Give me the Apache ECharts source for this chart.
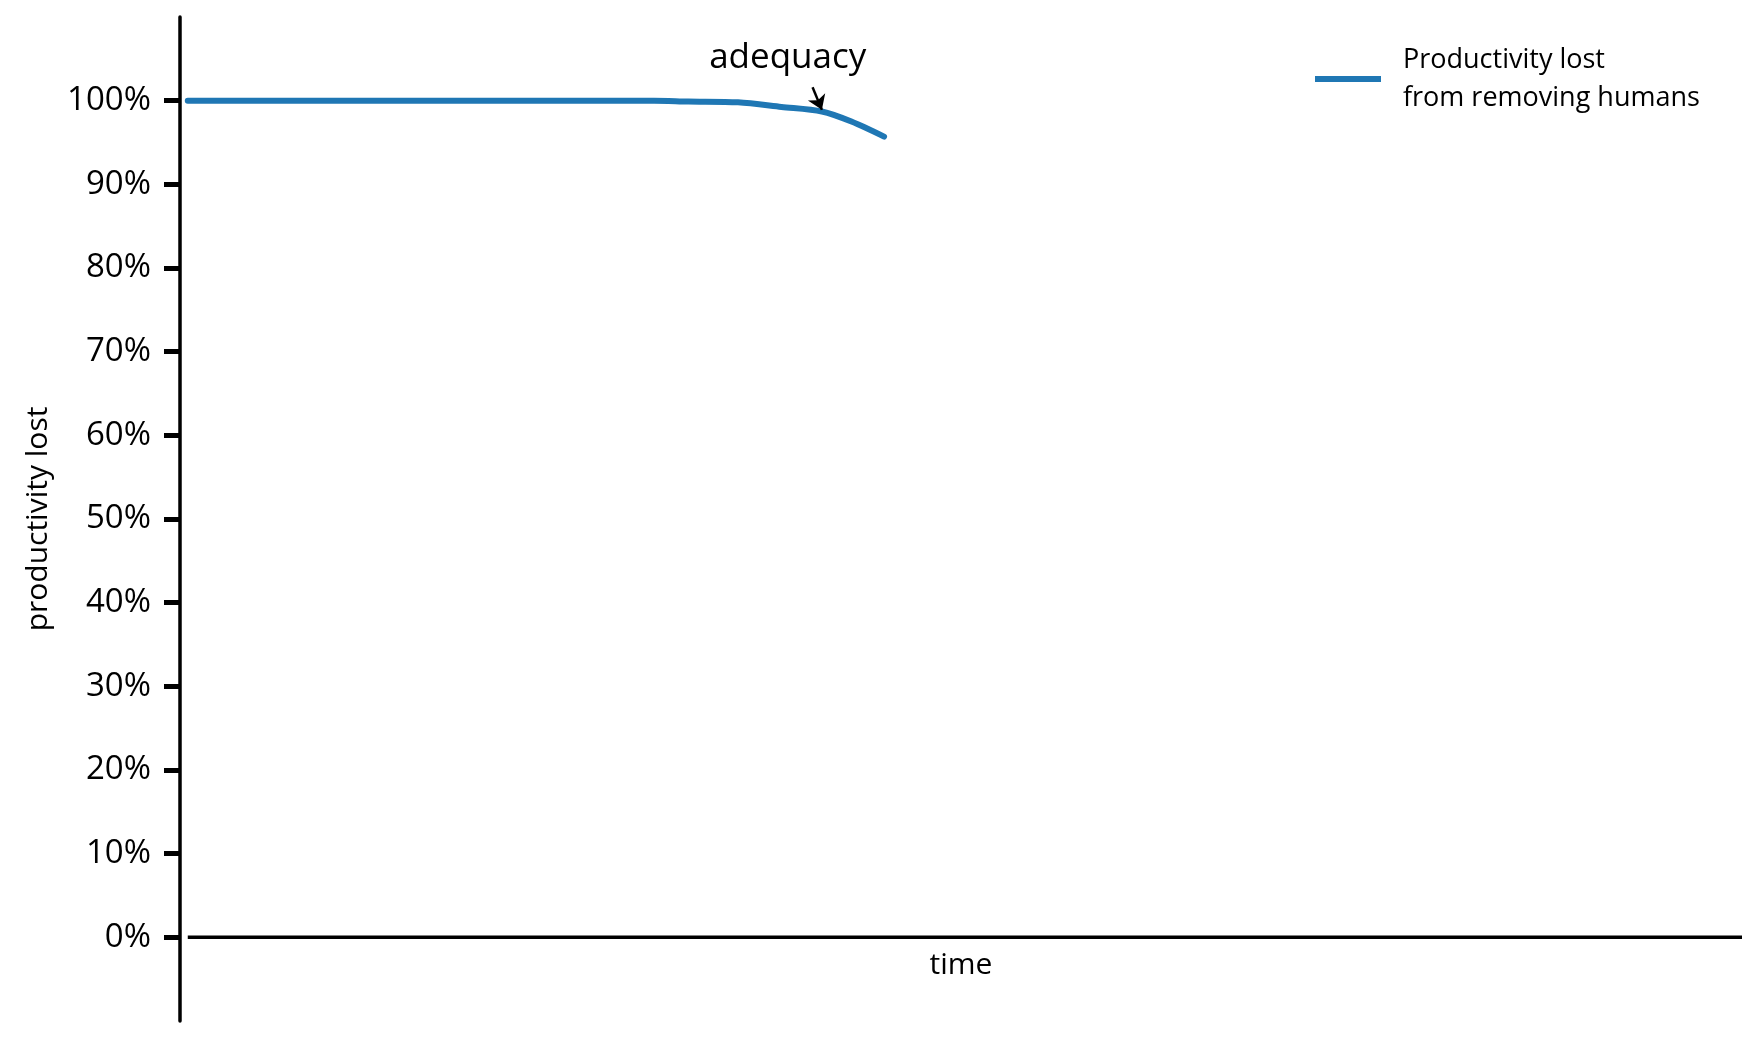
<!DOCTYPE html>
<html>
<head>
<meta charset="utf-8">
<script src="https://cdn.jsdelivr.net/npm/echarts@6/dist/echarts.min.js"></script>
<style>
  html, body { margin: 0; padding: 0; background: #fff; }
  #chart { width: 1760px; height: 1040px; }
</style>
</head>
<body>
<div id="chart"></div>
<script>
// ---- data ----
const seriesName = 'Productivity lost\nfrom removing humans';
const timeX = [0, 5, 10, 15, 20, 25, 30, 32.2, 35.4, 38.2, 40.8, 42.7, 44.8];
const productivityLost = [100, 100, 100, 100, 100, 100, 100, 99.9, 99.8, 99.25, 98.7, 97.5, 95.7];
const zeroLineX = [0, 100];
const zeroLineY = [0, 0];
const yTickValues = [0, 10, 20, 30, 40, 50, 60, 70, 80, 90, 100];
const annotationText = 'adequacy';
const annotationAt = [38.6, 105.1];
const arrowFrom = [40.2, 101.6];
const arrowTo = [40.8, 98.9];

const FONT = '"Open Sans", "Noto Sans", sans-serif';

const chart = echarts.init(document.getElementById('chart'), null, { renderer: 'canvas' });
chart.setOption({
  backgroundColor: '#ffffff',
  animation: false,
  textStyle: { fontFamily: FONT, color: '#000' },
  grid: { left: 180, right: 18, top: 17, bottom: 19, containLabel: false, outerBoundsMode: 'none' },
  legend: {
    data: [seriesName],
    left: 1310,
    top: 36,
    itemWidth: 66,
    itemHeight: 6,
    icon: 'rect',
    itemStyle: { color: '#1f77b4' },
    textStyle: { fontFamily: FONT, fontSize: 27, color: '#000', lineHeight: 38, padding: [0, 0, 0, 17] }
  },
  xAxis: {
    type: 'value',
    min: -0.5,
    max: 100,
    name: 'time',
    nameLocation: 'middle',
    nameGap: -71,
    nameTextStyle: { fontFamily: FONT, fontSize: 30, color: '#000', verticalAlign: 'top' },
    axisLine: { show: false },
    axisTick: { show: false },
    axisLabel: { show: false },
    splitLine: { show: false }
  },
  yAxis: {
    type: 'value',
    min: -10,
    max: 110,
    interval: 10,
    name: 'productivity lost',
    nameLocation: 'middle',
    nameGap: 127,
    nameTextStyle: { fontFamily: FONT, fontSize: 30, color: '#000' },
    axisLine: { show: true, onZero: false, lineStyle: { color: '#000', width: 3.5 } },
    axisTick: { show: true, customValues: yTickValues, length: 16, lineStyle: { color: '#000', width: 5 } },
    axisLabel: {
      show: true,
      customValues: yTickValues,
      margin: 29,
      fontFamily: FONT,
      fontSize: 33,
      color: '#000',
      formatter: v => v + '%'
    },
    splitLine: { show: false }
  },
  series: [
    {
      name: 'zero line',
      type: 'line',
      data: zeroLineX.map((x, i) => [x, zeroLineY[i]]),
      symbol: 'none',
      silent: true,
      lineStyle: { color: '#000', width: 3.5 },
      itemStyle: { color: '#000' },
      z: 2
    },
    {
      name: seriesName,
      type: 'line',
      data: timeX.map((x, i) => [x, productivityLost[i]]),
      symbol: 'none',
      smooth: 0.3,
      lineStyle: { color: '#1f77b4', width: 6, cap: 'round' },
      itemStyle: { color: '#1f77b4' },
      z: 3
    },
    {
      name: 'annotation',
      type: 'scatter',
      data: [annotationAt],
      symbolSize: 0,
      silent: true,
      itemStyle: { opacity: 1, color: '#000' },
      label: {
        show: true,
        position: 'inside',
        formatter: annotationText,
        fontFamily: FONT,
        fontSize: 35,
        color: '#000',
        opacity: 1
      },
      markLine: {
        silent: true,
        symbol: ['none', 'arrow'],
        symbolSize: 14,
        label: { show: false },
        lineStyle: { color: '#000', width: 2.5, type: 'solid', opacity: 1 },
        itemStyle: { color: '#000' },
        data: [[{ coord: arrowFrom }, { coord: arrowTo }]]
      },
      z: 4
    }
  ]
});
</script>
</body>
</html>
